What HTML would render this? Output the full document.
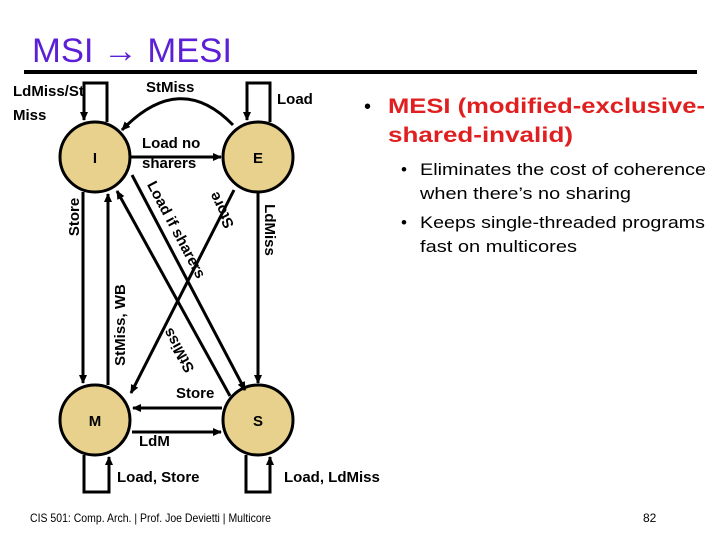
<!DOCTYPE html>
<html><head><meta charset="utf-8"><style>
html,body{margin:0;padding:0;background:#fff;}
svg{display:block;}
.b{font-family:"Liberation Sans",Arial,sans-serif;font-weight:bold;font-size:15px;fill:#000;}
</style></head><body>
<svg width="720" height="540" viewBox="0 0 720 540" xmlns="http://www.w3.org/2000/svg">
<defs>
<marker id="a" markerWidth="10" markerHeight="10" refX="8" refY="5" orient="auto" markerUnits="userSpaceOnUse">
<path d="M0,1 L9,5 L0,9 z" fill="#000"/>
</marker>
</defs>
<text x="32" y="62" font-family="'Liberation Sans',sans-serif" font-size="34" fill="#5b1fd6" textLength="200" lengthAdjust="spacingAndGlyphs">MSI → MESI</text>
<rect x="24" y="70" width="673" height="4" fill="#000"/>

<g stroke="#000" stroke-width="3" fill="none">
<!-- circles -->
<circle cx="95" cy="157" r="35" fill="#e8d18c"/>
<circle cx="258" cy="157" r="35" fill="#e8d18c"/>
<circle cx="95" cy="420" r="35" fill="#e8d18c"/>
<circle cx="258" cy="420" r="35" fill="#e8d18c"/>
<!-- I self loop -->
<path d="M107,122 L107,83 L84,83 L84,120" marker-end="url(#a)"/>
<!-- E self loop -->
<path d="M270,122 L270,83 L247,83 L247,120" marker-end="url(#a)"/>
<!-- StMiss arc E->I -->
<path d="M233,125 Q180,70 122,130" marker-end="url(#a)"/>
<!-- I->E -->
<path d="M131,157 L221,157" marker-end="url(#a)"/>
<!-- I->M store -->
<path d="M83,192 L83,383" marker-end="url(#a)"/>
<!-- M->I StMiss WB -->
<path d="M108,385 L108,194" marker-end="url(#a)"/>
<!-- E->S LdMiss -->
<path d="M258,192 L258,383" marker-end="url(#a)"/>
<!-- I->S load if sharers -->
<path d="M132,175 L245,390" marker-end="url(#a)"/>
<!-- E->M store -->
<path d="M234,190 L131,393" marker-end="url(#a)"/>
<!-- S->I StMiss -->
<path d="M230,396 L117,191" marker-end="url(#a)"/>
<!-- S->M store -->
<path d="M222,408 L133,408" marker-end="url(#a)"/>
<!-- M->S LdM -->
<path d="M132,432 L221,432" marker-end="url(#a)"/>
<!-- M loop -->
<path d="M84,455 L84,492 L109,492 L109,457" marker-end="url(#a)"/>
<!-- S loop -->
<path d="M246,455 L246,492 L270,492 L270,457" marker-end="url(#a)"/>
</g>

<text class="b" x="95" y="163" text-anchor="middle">I</text>
<text class="b" x="258" y="163" text-anchor="middle">E</text>
<text class="b" x="95" y="426" text-anchor="middle">M</text>
<text class="b" x="258" y="426" text-anchor="middle">S</text>

<text class="b" x="13" y="96">LdMiss/St</text>
<text class="b" x="13" y="120">Miss</text>
<text class="b" x="146" y="92">StMiss</text>
<text class="b" x="277" y="104">Load</text>
<text class="b" x="142" y="148">Load no</text>
<text class="b" x="142" y="168">sharers</text>
<text class="b" transform="translate(79,217) rotate(-90)" text-anchor="middle">Store</text>
<text class="b" transform="translate(125,325) rotate(-90)" text-anchor="middle">StMiss, WB</text>
<text class="b" transform="translate(265,230) rotate(90)" text-anchor="middle">LdMiss</text>
<text class="b" transform="translate(226,208) rotate(-116)" text-anchor="middle">Store</text>
<text class="b" transform="translate(172,232) rotate(62)" text-anchor="middle">Load if sharers</text>
<text class="b" transform="translate(183,348) rotate(-119)" text-anchor="middle">StMiss</text>
<text class="b" x="176" y="398">Store</text>
<text class="b" x="139" y="446">LdM</text>
<text class="b" x="117" y="482">Load, Store</text>
<text class="b" x="284" y="482">Load, LdMiss</text>

<g font-family="'Liberation Sans',sans-serif">
<text x="364" y="113" font-size="20" fill="#000">•</text>
<text x="388" y="113" font-size="21" font-weight="bold" fill="#e02020" textLength="317" lengthAdjust="spacingAndGlyphs">MESI (modified-exclusive-</text>
<text x="388" y="142" font-size="21" font-weight="bold" fill="#e02020" textLength="185" lengthAdjust="spacingAndGlyphs">shared-invalid)</text>
<g font-size="17" fill="#000">
<text x="401" y="175">•</text>
<text x="420" y="175" textLength="286" lengthAdjust="spacingAndGlyphs">Eliminates the cost of coherence</text>
<text x="420" y="199" textLength="211" lengthAdjust="spacingAndGlyphs">when there’s no sharing</text>
<text x="401" y="228">•</text>
<text x="420" y="228" textLength="285" lengthAdjust="spacingAndGlyphs">Keeps single-threaded programs</text>
<text x="420" y="252" textLength="157" lengthAdjust="spacingAndGlyphs">fast on multicores</text>
</g>
<text x="30" y="522" font-size="12" fill="#000" textLength="241" lengthAdjust="spacingAndGlyphs">CIS 501: Comp. Arch.  |  Prof. Joe Devietti  |  Multicore</text>
<text x="643" y="522" font-size="12" fill="#000">82</text>
</g>
</svg>
</body></html>
